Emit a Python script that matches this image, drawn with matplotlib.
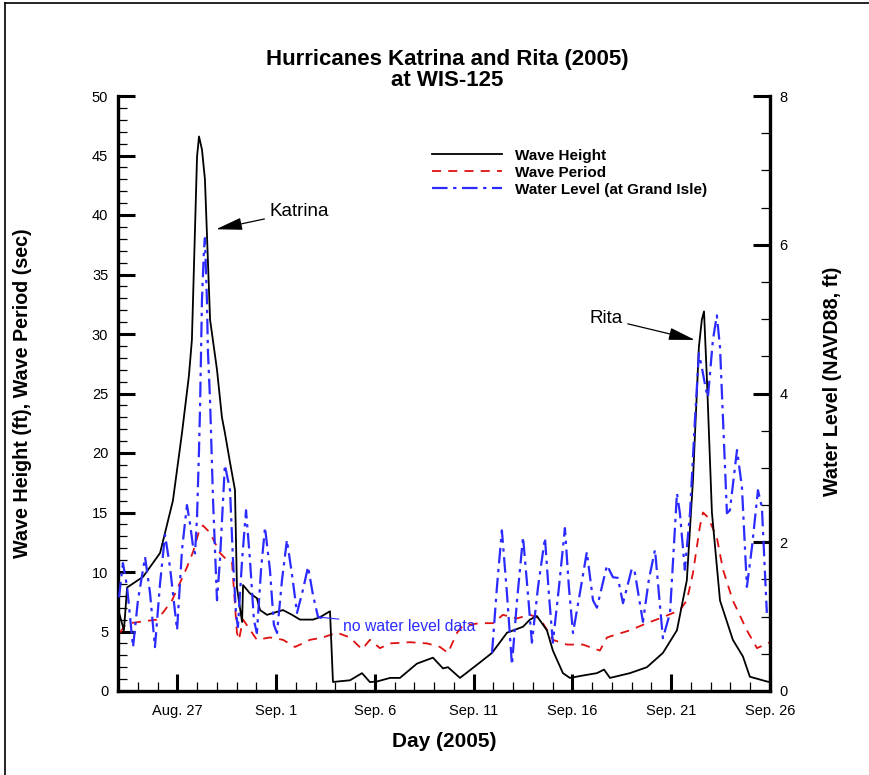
import numpy as np
import matplotlib
matplotlib.use("Agg")
import matplotlib.pyplot as plt
import matplotlib.ticker as ticker
from matplotlib.lines import Line2D

plt.rcParams["font.family"] = ["Liberation Sans", "DejaVu Sans"]

# days since Aug 24, 2005
xtick_days = [3, 8, 13, 18, 23, 28, 33]
xtick_labels = ["Aug. 27", "Sep. 1", "Sep. 6", "Sep. 11", "Sep. 16", "Sep. 21", "Sep. 26"]

# wave height (ft)
wh_day = [0.05, 0.30, 0.46, 1.27, 2.13, 2.78, 3.24, 3.59, 3.74, 4.00, 4.10, 4.25, 4.40,
          4.66, 5.01, 5.26, 5.41, 5.67, 5.92, 6.02, 6.28, 6.33, 6.68, 7.03, 7.19, 7.54,
          8.35, 8.81, 9.21, 9.87, 10.22, 10.73, 10.88, 11.74, 12.35, 12.75, 13.11, 13.77,
          14.27, 15.13, 15.94, 16.45, 16.70, 17.31, 18.32, 18.93, 19.69, 20.50, 20.85,
          21.20, 21.71, 22.01, 22.52, 22.87, 23.53, 24.24, 24.60, 24.90, 25.91, 26.77,
          27.58, 28.29, 28.79, 29.10, 29.40, 29.55, 29.66, 29.81, 30.06, 30.47, 31.12,
          31.63, 31.98, 32.84, 33.0]
wh_ft = [6.6, 5.1, 8.7, 9.6, 11.6, 16.0, 21.7, 26.5, 29.5, 44.9, 46.6, 45.5, 43.0,
         31.2, 27.0, 23.0, 21.7, 19.2, 16.9, 8.7, 5.8, 8.9, 8.2, 7.8, 6.8, 6.4,
         6.8, 6.4, 6.0, 6.0, 6.2, 6.7, 0.76, 0.9, 1.5, 0.75, 0.8, 1.1,
         1.1, 2.3, 2.8, 1.9, 2.0, 1.1, 2.4, 3.2, 4.9, 5.4, 6.0,
         6.3, 5.1, 3.4, 1.5, 1.1, 1.3, 1.5, 1.8, 1.1, 1.5, 2.0,
         3.2, 5.1, 9.3, 17.7, 28.9, 31.2, 31.9, 26.1, 15.0, 7.6, 4.3,
         2.9, 1.2, 0.8, 0.75]

# wave period (sec)
wp_day = [0.10, 0.35, 0.61, 1.97, 2.28, 2.73, 3.14, 3.49, 3.80, 4.15, 4.30, 4.66, 5.16,
          5.52, 5.77, 6.02, 6.12, 6.33, 7.03, 7.69, 8.35, 8.96, 9.72, 10.37, 11.08,
          11.74, 12.35, 12.75, 13.26, 13.77, 14.78, 15.64, 16.30, 16.70, 17.16, 17.46,
          18.32, 18.98, 19.48, 20.19, 20.85, 21.36, 22.01, 22.72, 23.53, 24.04, 24.39,
          24.75, 25.91, 26.77, 27.58, 28.44, 28.79, 29.10, 29.45, 29.61, 29.86, 30.31,
          30.62, 31.12, 31.83, 32.34, 33.0]
wp_sec = [4.9, 5.5, 5.7, 6.0, 6.6, 7.6, 9.1, 10.4, 11.7, 13.7, 13.9, 13.3, 11.6,
          11.0, 10.8, 4.9, 4.3, 6.0, 4.3, 4.5, 4.3, 3.7, 4.3, 4.5, 4.9,
          4.5, 3.5, 4.3, 3.6, 4.0, 4.1, 4.0, 3.7, 3.2, 4.9, 5.5,
          5.7, 5.7, 6.4, 6.1, 6.4, 6.1, 4.3, 3.9, 3.9, 3.6, 3.4,
          4.5, 5.1, 5.7, 6.2, 6.8, 7.6, 9.9, 13.8, 15.0, 14.6, 12.9,
          10.2, 7.6, 5.1, 3.6, 4.1]

# water level at Grand Isle (ft, NAVD88); nan = no data
wl_day = [0.05, 0.25, 0.46, 0.76, 1.01, 1.37, 1.62, 1.87, 2.13, 2.38, 2.63, 2.99, 3.24,
          3.49, 3.64, 3.80, 3.90, 4.00, 4.10, 4.15, 4.25, 4.35, 4.40, 4.45, 4.50, 4.55,
          4.66, 4.81, 5.01, 5.16, 5.41, 5.67, 5.82, 5.97, 6.07, 6.28, 6.48, 6.68, 6.88,
          7.03, 7.24, 7.44, 7.69, 7.89, 8.05, 8.30, 8.55, 8.81, 9.06, 9.36, 9.62, 9.87,
          10.12, 10.32, 14.5,
          18.93, 19.18, 19.43, 19.69, 19.94, 20.19, 20.50, 20.75, 20.95, 21.26, 21.61,
          21.81, 22.01, 22.32, 22.62, 22.82, 23.03, 23.38, 23.73, 24.04, 24.24, 24.75,
          25.05, 25.30, 25.56, 26.01, 26.16, 26.57, 26.87, 27.18, 27.38, 27.58, 27.94,
          28.29, 28.44, 28.69, 28.95, 29.20, 29.40, 29.55, 29.76, 29.86, 30.11, 30.31,
          30.47, 30.82, 30.97, 31.33, 31.58, 31.83, 32.09, 32.39, 32.59, 32.84]
wl_ft = [1.26, 1.72, 1.40, 0.59, 1.22, 1.80, 1.32, 0.59, 1.45, 2.10, 1.67, 0.82, 1.90,
         2.50, 2.26, 1.94, 1.85, 2.34, 3.24, 3.78, 5.26, 5.93, 6.09, 5.66, 5.26, 4.58,
         3.90, 2.57, 1.22, 1.76, 3.04, 2.70, 1.76, 1.05, 0.86, 1.76, 2.43, 1.76, 0.95,
         0.78, 1.63, 2.20, 1.63, 0.89, 0.78, 1.49, 2.03, 1.56, 1.05, 1.36, 1.67, 1.29,
         1.00, 0.98, np.nan,
         0.51, 1.40, 2.16, 1.30, 0.35, 1.20, 2.07, 1.30, 0.65, 1.40, 2.06,
         1.30, 0.65, 1.40, 2.19, 1.40, 0.78, 1.32, 1.87, 1.22, 1.12, 1.69,
         1.53, 1.52, 1.18, 1.65, 1.59, 0.93, 1.50, 1.90, 1.30, 0.71, 1.05,
         2.66, 2.39, 1.63, 2.39, 3.64, 4.54, 4.35, 4.05, 3.95, 4.72, 5.05,
         4.62, 2.39, 2.43, 3.24, 2.74, 1.40, 1.94, 2.70, 2.47, 1.05]

BLUE = "#2b2bff"
RED = "#e01010"

fig = plt.figure(figsize=(8.7, 7.75), dpi=100)
ax = fig.add_axes([118 / 870, 1 - 691 / 775, 652 / 870, 595 / 775])
ax2 = ax.twinx()

ax.plot(wh_day, wh_ft, color="black", lw=1.3, zorder=3)
ax.plot(wp_day, wp_sec, color=RED, lw=1.3, dashes=(5, 4), zorder=2)
ax2.plot(wl_day, wl_ft, color=BLUE, lw=1.6, dashes=(7, 2.5, 1.5, 2.5), zorder=2)

ax.set_xlim(0, 33)
ax.set_ylim(0, 50)
ax2.set_ylim(0, 8)

ax.set_xticks(xtick_days)
ax.set_xticklabels(xtick_labels)
ax.xaxis.set_minor_locator(ticker.MultipleLocator(1))
ax.yaxis.set_major_locator(ticker.MultipleLocator(5))
ax.yaxis.set_minor_locator(ticker.MultipleLocator(1))
ax2.yaxis.set_major_locator(ticker.MultipleLocator(2))
ax2.yaxis.set_minor_locator(ticker.MultipleLocator(0.5))

for a in (ax, ax2):
    a.tick_params(which="major", direction="in", length=12, width=2.2, labelsize=10.5, pad=7)
    a.tick_params(which="minor", direction="in", length=6.5, width=0.9)
    a.spines["top"].set_visible(False)
ax.tick_params(axis="x", pad=9)
ax.spines["right"].set_visible(False)
ax2.spines["left"].set_visible(False)
ax2.spines["bottom"].set_visible(False)
for s in ("left", "bottom"):
    ax.spines[s].set_linewidth(2.4)
ax2.spines["right"].set_linewidth(2.4)

ax.set_xlabel("Day (2005)", fontsize=15, fontweight="bold")
ax.xaxis.set_label_coords(0.5, -0.069)
ax.set_ylabel("Wave Height (ft), Wave Period (sec)", fontsize=14.2, fontweight="bold")
ax.yaxis.set_label_coords(-0.132, 0.5)
ax2.set_ylabel("Water Level (NAVD88, ft)", fontsize=14.2, fontweight="bold")
ax2.yaxis.set_label_coords(1.082, 0.52)

fig.text(447 / 870, 1 - 60 / 775, "Hurricanes Katrina and Rita (2005)",
         ha="center", va="center", fontsize=16, fontweight="bold")
fig.text(447 / 870, 1 - 80 / 775, "at WIS-125",
         ha="center", va="center", fontsize=16, fontweight="bold")

handles = [
    Line2D([], [], color="black", lw=1.3),
    Line2D([], [], color=RED, lw=1.3, dashes=(5, 4)),
    Line2D([], [], color=BLUE, lw=1.6, dashes=(7, 2.5, 1.5, 2.5)),
]
fig.legend(handles, ["Wave Height", "Wave Period", "Water Level (at Grand Isle)"],
           loc="upper left", bbox_to_anchor=(424 / 870, 1 - 141 / 775),
           frameon=False, borderpad=0, handlelength=4.6, handletextpad=0.85,
           labelspacing=0.2, prop={"weight": "bold", "size": 11})

arrow = dict(arrowstyle="-|>,head_length=1.2,head_width=0.28",
             color="black", lw=0.9, shrinkA=2, shrinkB=0)
ax.annotate("Katrina", xy=(4.96, 38.8), xytext=(7.69, 40.3), fontsize=13.5,
            va="center", arrowprops=arrow)
ax.annotate("Rita", xy=(29.2, 29.5), xytext=(23.84, 31.3), fontsize=13.5,
            va="center", arrowprops=arrow)
ax.annotate("no water level data", xy=(10.2, 6.2), xytext=(11.39, 5.46), fontsize=11.3,
            va="center", color=BLUE,
            arrowprops=dict(arrowstyle="-", color=BLUE, lw=0.8, shrinkA=1, shrinkB=0))

# figure frame
fig.add_artist(Line2D([5 / 870, 5 / 870], [0, 1 - 3 / 775], transform=fig.transFigure,
                      color="black", lw=1.2))
fig.add_artist(Line2D([5 / 870, 1], [1 - 3 / 775, 1 - 3 / 775], transform=fig.transFigure,
                      color="black", lw=1.2))

fig.savefig("out.png", dpi=100)
